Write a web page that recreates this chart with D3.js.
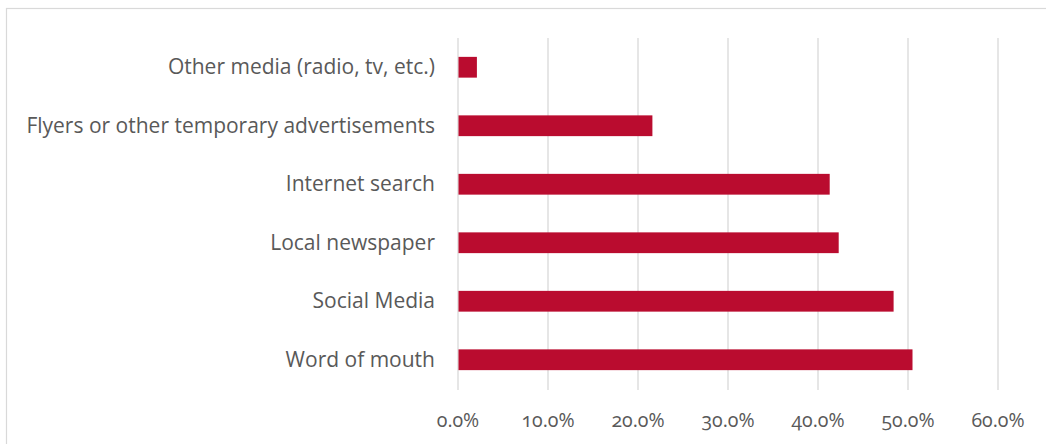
<!DOCTYPE html>
<html>
<head>
<meta charset="utf-8">
<script src="https://cdn.jsdelivr.net/npm/d3@7"></script>
<style>
  html, body { margin: 0; padding: 0; background: #fff; }
  svg { display: block; }
  text { font-family: "Open Sans", "Noto Sans", sans-serif; fill: #595959; font-feature-settings: "onum" 1; font-variant-numeric: oldstyle-nums; }
</style>
</head>
<body>
<svg id="chart" width="1046" height="444"></svg>
<script>
const categories = [
  "Other media (radio, tv, etc.)",
  "Flyers or other temporary advertisements",
  "Internet search",
  "Local newspaper",
  "Social Media",
  "Word of mouth"
];
const values = [0.021, 0.216, 0.413, 0.423, 0.484, 0.505];
const tickValues = [0, 0.1, 0.2, 0.3, 0.4, 0.5, 0.6];

const svg = d3.select("#chart");

// chart frame
svg.append("rect")
  .attr("x", 6.5).attr("y", 8.5)
  .attr("width", 1100).attr("height", 500)
  .attr("fill", "none").attr("stroke", "#d9d9d9").attr("stroke-width", 1.2);

const x = d3.scaleLinear().domain([0, 0.6]).range([458, 998]);
const y = d3.scaleBand().domain(categories).range([38, 389])
  .paddingInner(0.645).paddingOuter(0.3225);

// gridlines
svg.append("g").selectAll("line").data(tickValues).join("line")
  .attr("x1", d => x(d)).attr("x2", d => x(d))
  .attr("y1", 38).attr("y2", 390)
  .attr("stroke", "#d9d9d9").attr("stroke-width", 1.3);

// bars
svg.append("g").selectAll("rect").data(values).join("rect")
  .attr("x", x(0) + 0.5)
  .attr("y", (d, i) => y(categories[i]))
  .attr("width", d => x(d) - x(0) - 0.5)
  .attr("height", y.bandwidth())
  .attr("fill", "#BA0C2F");

// category labels
svg.append("g").selectAll("text").data(categories).join("text")
  .attr("x", 435)
  .attr("y", d => y(d) + y.bandwidth() / 2 + 7)
  .attr("text-anchor", "end")
  .attr("font-size", "21px")
  .attr("textLength", null)
  .text(d => d);

// x tick labels
const fmt = d3.format(".1%");
svg.append("g").selectAll("text").data(tickValues).join("text")
  .attr("x", d => x(d))
  .attr("y", 427)
  .attr("text-anchor", "middle")
  .attr("font-size", "19.5px")
  .text(d => fmt(d));
</script>
</body>
</html>
